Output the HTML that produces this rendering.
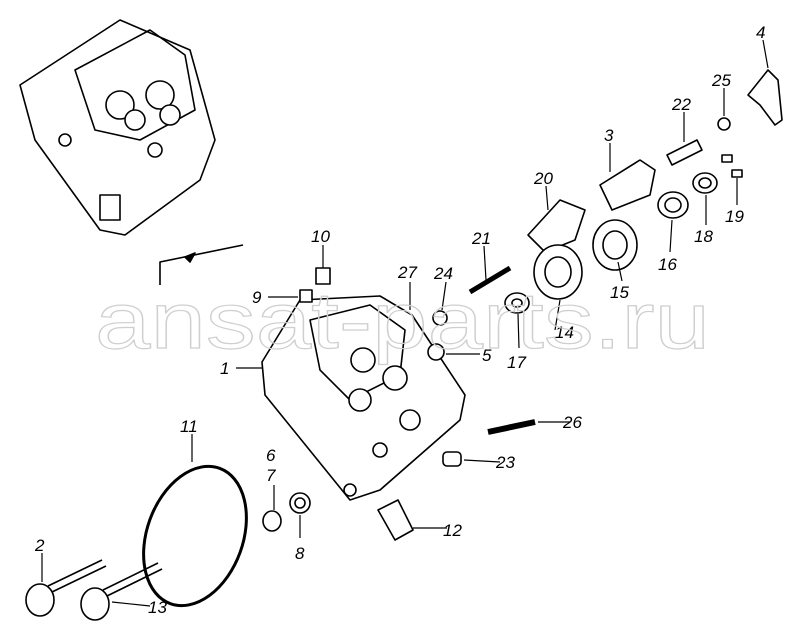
<!DOCTYPE html>
<html><head><meta charset="utf-8"><style>
html,body{margin:0;padding:0;background:#fff;}
svg{display:block;}
text{font-family:"Liberation Sans",sans-serif;font-style:italic;font-size:17px;fill:#000;}
.w{font-style:normal;font-size:80px;fill:none;stroke:#cfcfcf;stroke-width:1.2;}
</style></head><body>
<svg width="808" height="636" viewBox="0 0 808 636" xmlns="http://www.w3.org/2000/svg">
<g fill="#fff" stroke="#000" stroke-width="1.6" stroke-linejoin="round">
<polygon points="20,85 120,20 190,50 215,140 200,180 125,235 100,230 35,140"/>
<polygon points="75,70 150,30 185,55 195,110 140,140 95,130" fill="none"/>
<circle cx="120" cy="105" r="14"/><circle cx="160" cy="95" r="14"/>
<circle cx="135" cy="120" r="10"/><circle cx="170" cy="115" r="10"/>
<rect x="100" y="195" width="20" height="25" fill="none"/>
<circle cx="65" cy="140" r="6"/><circle cx="155" cy="150" r="7"/>
<polyline points="160,285 160,262 243,245" fill="none"/>
<polygon points="185,257 195,253 190,262" fill="#000"/>
<polygon points="262,362 300,300 380,296 412,315 465,395 460,420 380,490 350,500 265,395"/>
<polygon points="310,320 370,305 405,330 400,375 350,400 320,370" fill="none"/>
<circle cx="363" cy="360" r="12"/><circle cx="395" cy="378" r="12"/>
<circle cx="360" cy="400" r="11"/><circle cx="410" cy="420" r="10"/>
<circle cx="380" cy="450" r="7"/><circle cx="350" cy="490" r="6"/>
<rect x="316" y="268" width="14" height="16"/><rect x="300" y="290" width="12" height="12"/>
<line x1="470" y1="292" x2="510" y2="268" stroke-width="5"/>
<polygon points="528,235 560,200 585,210 575,240 545,252"/>
<polygon points="600,185 640,160 655,170 650,195 612,210"/>
<polygon points="667,155 697,140 702,150 672,165"/>
<circle cx="724" cy="124" r="6"/>
<polygon points="748,95 768,70 778,80 782,120 775,125 760,105"/>
<rect x="722" y="155" width="10" height="7"/><rect x="732" y="170" width="10" height="7"/>
<ellipse cx="705" cy="183" rx="12" ry="10"/><ellipse cx="705" cy="183" rx="6" ry="5"/>
<ellipse cx="673" cy="205" rx="15" ry="13"/><ellipse cx="673" cy="205" rx="8" ry="7"/>
<ellipse cx="615" cy="245" rx="22" ry="25"/><ellipse cx="615" cy="245" rx="12" ry="14"/>
<ellipse cx="558" cy="272" rx="24" ry="27"/><ellipse cx="558" cy="272" rx="13" ry="15"/>
<ellipse cx="517" cy="303" rx="12" ry="10"/><ellipse cx="517" cy="303" rx="5" ry="4"/>
<circle cx="440" cy="318" r="7"/><circle cx="436" cy="352" r="8"/>
<line x1="488" y1="432" x2="535" y2="422" stroke-width="6"/>
<rect x="443" y="452" width="18" height="14" rx="4"/>
<polygon points="378,510 398,500 413,530 395,540"/>
<ellipse cx="272" cy="521" rx="9" ry="10"/><ellipse cx="300" cy="503" rx="10" ry="10"/>
<ellipse cx="300" cy="503" rx="5" ry="5"/>
<ellipse cx="195" cy="536" rx="48" ry="72" transform="rotate(20 195 536)" fill="none" stroke-width="3"/>
<path d="M48,586 L102,560 M52,592 L106,566" fill="none"/>
<ellipse cx="40" cy="600" rx="14" ry="16"/>
<path d="M103,590 L158,563 M107,596 L162,569" fill="none"/>
<ellipse cx="95" cy="604" rx="14" ry="16"/>
</g>
<g stroke="#000" stroke-width="1.2" fill="none">
<line x1="763" y1="40" x2="768" y2="68"/><line x1="724" y1="88" x2="724" y2="116"/>
<line x1="684" y1="112" x2="684" y2="142"/><line x1="610" y1="143" x2="610" y2="172"/>
<line x1="546" y1="186" x2="548" y2="210"/><line x1="737" y1="205" x2="737" y2="178"/>
<line x1="706" y1="225" x2="706" y2="195"/><line x1="670" y1="252" x2="672" y2="220"/>
<line x1="484" y1="246" x2="486" y2="280"/><line x1="323" y1="245" x2="323" y2="268"/>
<line x1="410" y1="282" x2="410" y2="310"/><line x1="446" y1="282" x2="442" y2="310"/>
<line x1="622" y1="281" x2="618" y2="262"/><line x1="268" y1="297" x2="298" y2="297"/>
<line x1="555" y1="330" x2="560" y2="300"/><line x1="519" y1="348" x2="518" y2="314"/>
<line x1="480" y1="354" x2="446" y2="354"/><line x1="236" y1="368" x2="262" y2="368"/>
<line x1="192" y1="434" x2="192" y2="462"/><line x1="570" y1="422" x2="538" y2="422"/>
<line x1="274" y1="485" x2="274" y2="510"/><line x1="500" y1="462" x2="464" y2="460"/>
<line x1="447" y1="528" x2="413" y2="528"/><line x1="300" y1="538" x2="300" y2="515"/>
<line x1="42" y1="553" x2="42" y2="582"/><line x1="150" y1="606" x2="112" y2="602"/>
</g>
<text x="756" y="38">4</text><text x="712" y="86">25</text><text x="672" y="110">22</text>
<text x="604" y="141">3</text><text x="534" y="184">20</text><text x="725" y="222">19</text>
<text x="694" y="242">18</text><text x="658" y="270">16</text><text x="472" y="244">21</text>
<text x="311" y="242">10</text><text x="398" y="278">27</text><text x="434" y="279">24</text>
<text x="610" y="298">15</text><text x="252" y="303">9</text><text x="555" y="338">14</text>
<text x="507" y="368">17</text><text x="482" y="361">5</text><text x="220" y="374">1</text>
<text x="180" y="432">11</text><text x="563" y="428">26</text><text x="266" y="461">6</text>
<text x="266" y="481">7</text><text x="496" y="468">23</text><text x="443" y="536">12</text>
<text x="295" y="559">8</text><text x="35" y="551">2</text><text x="148" y="613">13</text>
<text class="w" x="95" y="348" textLength="615" lengthAdjust="spacingAndGlyphs">ansat-parts.ru</text>
</svg>
</body></html>
